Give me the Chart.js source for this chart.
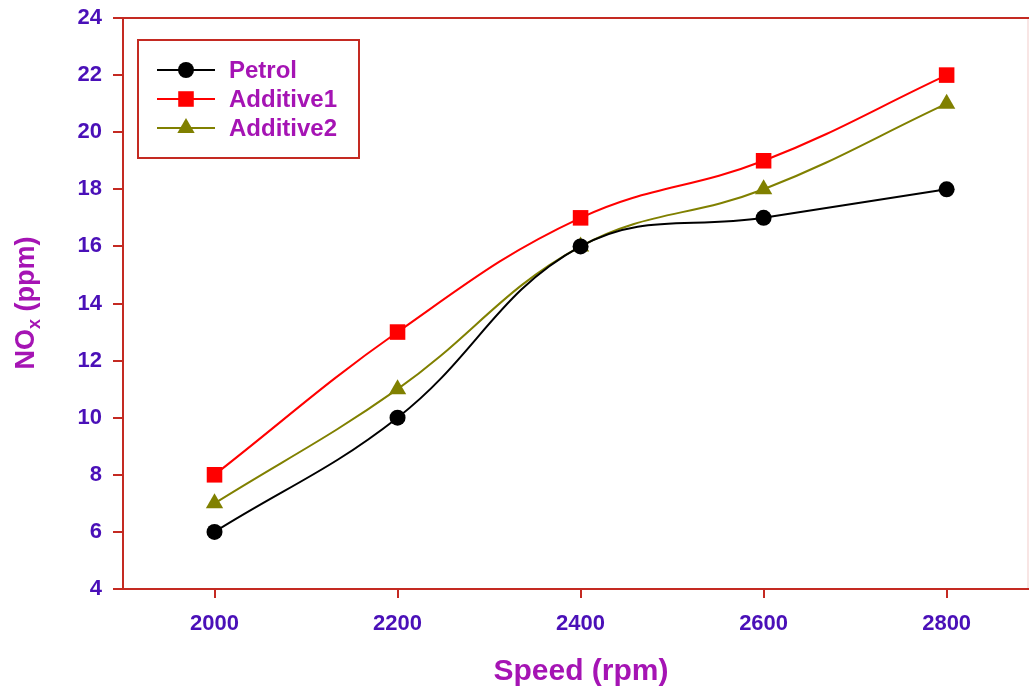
<!DOCTYPE html>
<html>
<head>
<meta charset="utf-8">
<script src="https://cdn.jsdelivr.net/npm/chart.js@4.4.0/dist/chart.umd.min.js"></script>
<style>
  html, body { margin: 0; padding: 0; background: #fff; overflow: hidden; }
  #wrap { width: 1029px; height: 691px; position: relative; }
  canvas { display: block; }
</style>
</head>
<body>
<div id="wrap"><canvas id="myChart"></canvas></div>
<script>
// data
const speeds = [2000, 2200, 2400, 2600, 2800];
const petrol = [6, 10, 16, 17, 18];
const additive1 = [8, 13, 17, 19, 22];
const additive2 = [7, 11, 16, 18, 21];
const yTicks = [4, 6, 8, 10, 12, 14, 16, 18, 20, 22, 24];

const axisRed = '#c42a22';
const tickPurple = '#4a10b8';
const titleMagenta = '#a514b4';
const fontFam = '"Liberation Sans", Arial, sans-serif';

const toPoints = vals => speeds.map((s, i) => ({ x: s, y: vals[i] }));

const series = [
    { label: 'Petrol', data: petrol, color: '#000000', style: 'circle', radius: 8 },
    { label: 'Additive1', data: additive1, color: '#ff0000', style: 'rect', radius: 11 },
    { label: 'Additive2', data: additive2, color: '#808000', style: 'triangle', radius: 10 },
];

const noPad = scale => {
    scale.paddingTop = 0;
    scale.paddingBottom = 0;
    scale.paddingLeft = 0;
    scale.paddingRight = 0;
};

// frame (top/right), axis titles and the boxed legend
const extras = {
    id: 'extras',
    afterDraw(chart) {
        const ctx = chart.ctx;
        const a = chart.chartArea;
        ctx.save();
        ctx.strokeStyle = axisRed;
        ctx.lineWidth = 2;
        ctx.beginPath();
        ctx.moveTo(a.left, a.top);
        ctx.lineTo(a.right, a.top);
        ctx.stroke();
        ctx.strokeStyle = 'rgba(196,42,34,0.12)';
        ctx.beginPath();
        ctx.moveTo(a.right - 1, a.top);
        ctx.lineTo(a.right - 1, a.bottom);
        ctx.stroke();

        // x title
        ctx.fillStyle = titleMagenta;
        ctx.font = 'bold 30px ' + fontFam;
        ctx.textAlign = 'center';
        ctx.textBaseline = 'middle';
        ctx.fillText('Speed (rpm)', 581, 672);

        // y title with subscript
        ctx.translate(25, 303);
        ctx.rotate(-Math.PI / 2);
        const big = 'bold 27px ' + fontFam;
        const small = 'bold 18px ' + fontFam;
        ctx.font = big;
        const w1 = ctx.measureText('NO').width;
        const w3 = ctx.measureText(' (ppm)').width;
        ctx.font = small;
        const w2 = ctx.measureText('x').width;
        let x0 = -(w1 + w2 + w3) / 2;
        ctx.textAlign = 'left';
        ctx.textBaseline = 'alphabetic';
        ctx.font = big;
        ctx.fillText('NO', x0, 9);
        ctx.font = small;
        ctx.fillText('x', x0 + w1, 15);
        ctx.font = big;
        ctx.fillText(' (ppm)', x0 + w1 + w2, 9);
        ctx.restore();

        // legend
        ctx.save();
        ctx.strokeStyle = axisRed;
        ctx.lineWidth = 2;
        ctx.strokeRect(138, 40, 221, 118);
        chart.data.datasets.forEach((ds, i) => {
            const y = 70 + i * 29;
            ctx.strokeStyle = ds.borderColor;
            ctx.lineWidth = 2;
            ctx.beginPath();
            ctx.moveTo(157, y);
            ctx.lineTo(215, y);
            ctx.stroke();
            drawMarker(ctx, ds.pointStyle, 186, y, ds.pointRadius, ds.borderColor);
            ctx.fillStyle = titleMagenta;
            ctx.font = 'bold 24px ' + fontFam;
            ctx.textAlign = 'left';
            ctx.textBaseline = 'middle';
            ctx.fillText(ds.label, 229, y + 1);
        });
        ctx.restore();
    }
};

function drawMarker(ctx, style, x, y, r, color) {
    ctx.fillStyle = color;
    ctx.beginPath();
    if (style === 'circle') {
        ctx.arc(x, y, r, 0, Math.PI * 2);
    } else if (style === 'rect') {
        const s = Math.SQRT1_2 * r;
        ctx.rect(x - s, y - s, 2 * s, 2 * s);
    } else {
        ctx.moveTo(x, y - r);
        ctx.lineTo(x - r * 0.866, y + r * 0.5);
        ctx.lineTo(x + r * 0.866, y + r * 0.5);
        ctx.closePath();
    }
    ctx.fill();
}

const canvas = document.getElementById('myChart');
new Chart(canvas, {
    type: 'line',
    data: {
        datasets: series.map(s => ({
            label: s.label,
            data: toPoints(s.data),
            borderColor: s.color,
            backgroundColor: s.color,
            pointBackgroundColor: s.color,
            pointBorderWidth: 0,
            pointStyle: s.style,
            pointRadius: s.radius,
            borderWidth: 2,
            tension: 0.4,
            fill: false,
        })),
    },
    options: {
        responsive: true,
        maintainAspectRatio: false,
        animation: false,
        events: [],
        layout: { autoPadding: false, padding: { left: 0, top: 18, right: 0, bottom: 0 } },
        plugins: {
            legend: { display: false },
            tooltip: { enabled: false },
        },
        scales: {
            x: {
                type: 'linear',
                min: 1900,
                max: 2890,
                afterBuildTicks: scale => { scale.ticks = speeds.map(v => ({ value: v })); },
                afterFit: scale => { scale.height = 102; noPad(scale); },
                border: { color: axisRed, width: 2 },
                grid: { drawOnChartArea: false, drawTicks: true, tickLength: 9, color: axisRed, lineWidth: 2 },
                ticks: {
                    color: tickPurple,
                    font: { family: fontFam, size: 22, weight: 'bold' },
                    padding: 13,
                    maxRotation: 0,
                    callback: v => String(v),
                },
            },
            y: {
                min: 4,
                max: 24,
                afterBuildTicks: scale => { scale.ticks = yTicks.map(v => ({ value: v })); },
                afterFit: scale => { scale.width = 123; noPad(scale); },
                border: { color: axisRed, width: 2 },
                grid: { drawOnChartArea: false, drawTicks: true, tickLength: 10, color: axisRed, lineWidth: 2 },
                ticks: {
                    color: tickPurple,
                    font: { family: fontFam, size: 22, weight: 'bold' },
                    padding: 11,
                },
            },
        },
    },
    plugins: [extras],
});
</script>
</body>
</html>
